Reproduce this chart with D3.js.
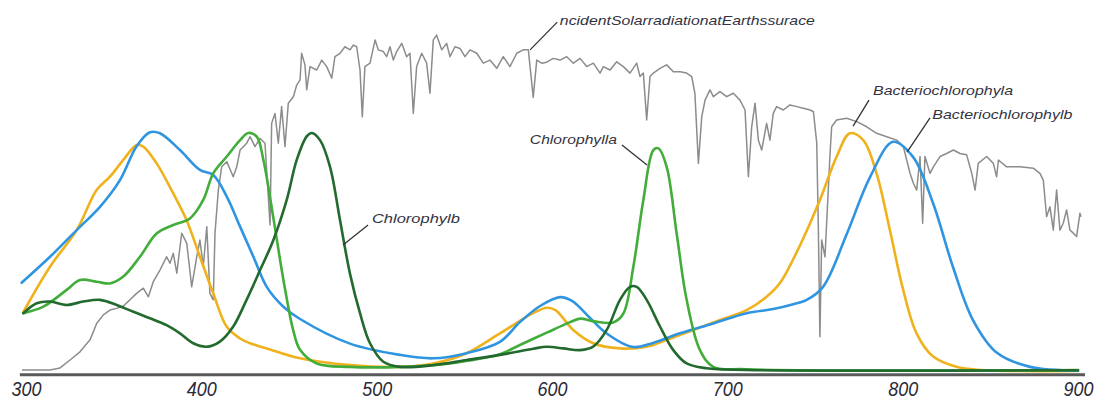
<!DOCTYPE html>
<html>
<head>
<meta charset="utf-8">
<script src="https://cdn.jsdelivr.net/npm/d3@7/dist/d3.min.js"></script>
<style>
  html, body { margin: 0; padding: 0; background: #fff; }
  svg { display: block; }
</style>
</head>
<body>
<svg id="chart" width="1102" height="403"></svg>
<script>
// Wavelength (nm) vs relative absorbance / irradiance (0-100, arbitrary units)
const wavelengthTicks = [300, 400, 500, 600, 700, 800, 900];

// Incident solar radiation at Earth's surface
const solarIrradiance = [
  [297.7,0.6],[313.7,0.6],[319.4,1.2],[325.1,3.5],[330.8,5.9],[336.5,9.4],[340.3,14.2],[344.1,16.7],
  [347.9,18.1],[351.7,18.6],[355.5,19.3],[359.3,21.1],[363.1,23.0],[366.9,24.5],[369.8,22.0],[372.6,26.4],
  [376.4,29.8],[380.2,33.7],[382.1,31.8],[384.0,34.7],[386.0,28.9],[388.8,40.6],[391.7,37.6],[394.5,24.9],
  [397.4,33.7],[399.2,38.6],[401.1,30.8],[403.1,42.5],[404.9,23.0],[406.8,21.1],[407.8,40.6],[409.7,53.2],
  [411.6,60.0],[414.5,61.5],[418.2,57.1],[420.2,60.0],[422.1,64.9],[425.9,66.9],[427.8,68.8],[430.6,65.9],
  [433.5,68.3],[436.3,66.9],[439.2,43.0],[440.1,72.7],[442.0,75.6],[443.9,66.9],[445.8,77.6],[447.7,65.9],
  [449.6,78.6],[452.5,80.5],[454.4,83.9],[456.3,85.4],[457.2,93.2],[459.1,89.8],[460.1,82.5],[462.0,89.3],
  [465.8,88.3],[468.7,91.2],[471.5,89.3],[474.4,85.9],[476.2,92.2],[479.1,93.2],[481.9,95.1],[484.8,94.2],
  [486.7,95.6],[488.6,95.1],[490.5,88.3],[491.8,74.6],[493.3,89.3],[496.2,90.3],[499.1,97.1],[500.9,94.2],
  [503.8,93.7],[505.7,92.2],[507.6,95.1],[509.5,91.2],[511.4,93.7],[514.3,96.1],[517.1,92.2],[519.0,93.2],
  [520.9,75.6],[522.8,89.3],[525.7,93.2],[528.5,90.3],[530.4,81.5],[532.3,97.1],[534.2,98.5],[537.1,94.2],
  [539.9,96.1],[541.8,92.2],[544.7,95.1],[547.5,94.6],[550.4,92.2],[553.2,94.2],[557.1,93.2],[560.8,90.3],
  [564.6,91.2],[568.5,88.8],[572.2,92.2],[576.0,89.3],[579.9,93.2],[583.6,94.2],[586.5,94.2],[589.3,80.3],
  [591.3,91.2],[594.1,90.3],[597.0,90.6],[600.7,91.7],[604.6,91.2],[608.4,92.2],[612.2,90.3],[616.0,91.7],
  [619.8,89.3],[623.6,90.3],[627.4,87.4],[629.3,89.3],[633.1,88.3],[636.9,90.7],[640.7,89.3],[644.5,87.4],
  [648.3,90.3],[650.2,86.4],[652.1,87.4],[654.0,73.7],[655.9,86.4],[657.8,87.4],[661.6,88.8],[665.4,89.8],
  [669.2,87.8],[673.0,87.8],[676.8,87.4],[679.7,86.4],[681.5,81.5],[683.5,61.0],[685.4,74.6],[687.3,79.5],
  [690.1,82.5],[692.0,80.5],[695.8,82.0],[699.6,80.5],[703.4,81.5],[707.2,79.5],[710.1,76.6],[712.0,57.1],
  [713.9,71.7],[715.8,78.6],[717.7,67.8],[719.6,64.9],[722.4,72.7],[724.3,67.8],[726.2,75.6],[728.1,77.6],
  [731.9,76.6],[735.7,78.1],[739.6,77.6],[743.3,77.1],[747.2,76.6],[749.1,76.1],[751.0,66.9],[751.9,42.5],
  [752.8,10.3],[753.8,38.6],[755.7,33.7],[758.5,63.0],[759.5,71.7],[762.3,73.7],[768.1,74.2],[773.8,73.2],
  [779.5,71.7],[785.2,69.8],[790.9,68.8],[796.6,67.8],[800.4,65.9],[802.3,62.0],[804.2,58.1],[806.1,55.2],
  [808.0,53.2],[809.9,63.0],[811.4,43.5],[812.7,63.0],[815.6,58.1],[817.5,60.0],[821.3,63.0],[825.1,63.9],
  [828.9,64.9],[832.7,63.9],[836.5,63.5],[839.4,58.1],[841.3,53.2],[843.1,61.0],[847.9,63.0],[851.7,61.0],
  [853.6,57.1],[854.6,62.0],[859.3,60.0],[863.1,60.0],[866.9,60.0],[874.5,59.6],[878.3,58.1],[880.2,56.1],
  [882.1,45.4],[884.0,48.3],[885.9,41.5],[887.8,53.2],[889.7,41.5],[891.6,43.5],[893.5,47.4],[895.4,41.5],
  [897.3,40.6],[899.2,39.6],[901.1,46.4],[901.7,45.4]
];

// Bacteriochlorophyll a
const bchlA = [
  [298.5,17.6],[313.7,30.8],[328.9,41.5],[340.3,53.2],[347.9,57.1],[355.5,62.0],[363.1,66.4],[366.9,65.9],
  [374.5,61.0],[384.0,52.2],[391.6,44.4],[399.2,33.7],[406.8,23.0],[414.5,13.2],[422.1,9.8],[427.8,8.4],
  [437.3,6.9],[456.3,4.0],[484.8,2.0],[513.3,1.5],[532.3,2.5],[551.3,5.5],[570.3,11.3],[589.3,17.2],
  [597.0,18.8],[602.0,18.1],[612.1,12.3],[623.5,8.4],[638.8,6.9],[654.0,7.4],[665.4,9.4],[680.6,12.3],
  [695.8,15.2],[711.0,18.1],[722.4,22.0],[730.0,26.0],[741.4,37.0],[752.8,50.3],[762.3,62.9],[769.9,69.8],
  [777.5,67.8],[785.1,58.1],[792.7,41.5],[800.3,24.0],[807.9,11.3],[817.4,4.5],[830.7,1.5],[844.1,0.6],
  [900.0,0.3]
];

// Bacteriochlorophyll b
const bchlB = [
  [297.5,26.1],[313.7,33.7],[328.9,41.5],[342.2,48.3],[353.6,56.1],[363.1,66.0],[370.7,70.1],[376.4,69.8],
  [387.8,64.9],[399.2,59.1],[406.8,57.6],[414.5,51.3],[422.1,42.5],[429.7,33.7],[437.3,24.9],[446.8,19.1],
  [456.3,15.5],[484.8,8.3],[513.3,5.0],[532.3,4.0],[551.3,5.5],[570.3,8.8],[581.7,14.6],[593.2,19.3],
  [604.6,21.9],[611.4,20.8],[621.7,15.8],[630.8,11.4],[646.2,7.3],[657.6,8.5],[673.0,11.3],[692.0,14.2],
  [711.0,17.2],[726.2,18.4],[737.6,19.8],[745.0,21.0],[754.6,24.9],[768.3,40.6],[781.4,57.0],[794.5,67.3],
  [805.9,62.9],[817.3,49.4],[828.7,30.7],[840.1,15.2],[853.8,5.6],[872.6,1.5],[900.0,0.4]
];

// Chlorophyll a
const chlA = [
  [298.5,17.2],[309.9,19.1],[323.2,24.0],[330.8,26.9],[340.3,26.4],[347.9,25.9],[355.5,27.9],[365.0,33.7],
  [374.5,40.5],[384.0,43.0],[393.5,44.9],[401.1,50.3],[406.8,58.1],[414.5,63.0],[422.1,67.8],[426.8,69.9],
  [431.6,68.8],[435.4,62.0],[441.1,45.0],[446.8,27.0],[452.5,12.0],[456.3,6.5],[465.8,2.5],[484.8,1.5],
  [513.3,1.5],[541.8,2.5],[560.0,4.0],[570.3,5.2],[581.7,7.9],[597.0,11.5],[610.0,14.5],[616.0,15.6],
  [624.0,14.8],[635.0,14.5],[640.7,17.1],[646.4,30.8],[652.1,50.3],[657.8,64.9],[660.7,65.4],[665.4,60.0],
  [671.1,40.5],[676.8,21.1],[684.4,6.4],[692.0,1.5],[711.0,0.8],[900.0,0.6]
];

// Chlorophyll b
const chlB = [
  [298.5,17.2],[306.1,20.1],[313.7,20.6],[323.2,19.6],[332.7,20.6],[342.2,21.1],[351.7,19.6],[361.2,17.6],
  [370.7,15.7],[380.2,13.7],[387.8,11.3],[395.4,8.4],[403.0,7.4],[410.6,8.9],[418.2,13.3],[425.8,21.1],
  [433.5,29.8],[441.1,38.6],[448.7,50.3],[454.4,62.0],[460.1,68.9],[463.0,69.9],[467.7,67.8],[473.4,60.0],
  [479.1,44.4],[484.8,28.7],[490.5,17.2],[496.2,8.4],[503.8,3.0],[513.3,1.5],[532.3,2.0],[551.3,3.5],
  [570.3,5.0],[589.3,6.8],[597.0,7.4],[606.5,6.9],[616.0,6.4],[623.5,7.4],[631.2,12.3],[638.8,21.1],
  [644.5,24.9],[648.3,24.9],[654.0,21.1],[661.6,13.3],[669.2,6.4],[676.8,2.5],[688.2,1.1],[711.0,0.6],
  [900.0,0.5]
];

// Callout labels: leader from [nm, value] on the curve to the text anchor
const callouts = [
  { text: "ncidentSolarradiationatEarthssurace", from: [587.5, 94.2], to: [603.0, 102.3], at: [604.5, 101.4], anchor: "start", len: 255 },
  { text: "Bacteriochlorophyla", from: [771.7, 71.9], to: [780.8, 79.5], at: [783.1, 81.0], anchor: "start", len: 140 },
  { text: "Bacteriochlorophylb", from: [802.5, 64.3], to: [815.6, 74.3], at: [816.9, 74.0], anchor: "start", len: 140 },
  { text: "Chlorophylla", from: [654.2, 60.5], to: [639.9, 66.4], at: [637.0, 66.7], anchor: "end", len: 87 },
  { text: "Chlorophylb", from: [480.8, 37.1], to: [495.1, 43.0], at: [497.3, 43.6], anchor: "start", len: 88 }
];

const svg = d3.select("#chart");
const x = d3.scaleLinear().domain([300, 900]).range([26, 1078]);
const y = d3.scaleLinear().domain([0, 100]).range([372, 30]);

// baseline axis: thick rule just under zero, condensed tick labels below it
const axisY = y(-0.8);
svg.append("line")
  .attr("x1", x(296.5)).attr("x2", x(904))
  .attr("y1", axisY).attr("y2", axisY)
  .attr("stroke", "#5a5a5a").attr("stroke-width", 3);
const axis = d3.axisBottom(x).tickValues(wavelengthTicks).tickSize(0).tickFormat(d3.format("d"));
const ag = svg.append("g").attr("transform", `translate(0,${axisY})`).call(axis);
ag.select(".domain").remove();
ag.selectAll("text")
  .attr("y", 21).attr("dy", 0)
  .attr("font-family", "'Liberation Sans', Arial, sans-serif")
  .attr("font-size", 20)
  .attr("font-style", "italic")
  .attr("textLength", 30)
  .attr("lengthAdjust", "spacingAndGlyphs")
  .attr("fill", "#2a2a35");

const smooth = d3.line().x(d => x(d[0])).y(d => y(d[1])).curve(d3.curveCatmullRom.alpha(0.5));
const raw = d3.line().x(d => x(d[0])).y(d => y(d[1]));

svg.append("path").datum(solarIrradiance).attr("d", raw)
  .attr("fill", "none").attr("stroke", "#8c8c8c").attr("stroke-width", 1.5).attr("stroke-linejoin", "round");

const series = [
  { data: bchlA, color: "#f0b21c" },
  { data: bchlB, color: "#2f95e0" },
  { data: chlA, color: "#42ad3a" },
  { data: chlB, color: "#236a2e" }
];
series.forEach(s => {
  svg.append("path").datum(s.data).attr("d", smooth)
    .attr("fill", "none").attr("stroke", s.color).attr("stroke-width", 2.6)
    .attr("stroke-linejoin", "round").attr("stroke-linecap", "round");
});

// callouts
const cg = svg.append("g");
callouts.forEach(c => {
  cg.append("line")
    .attr("x1", x(c.from[0])).attr("y1", y(c.from[1]))
    .attr("x2", x(c.to[0])).attr("y2", y(c.to[1]))
    .attr("stroke", "#333").attr("stroke-width", 1.3);
  cg.append("text")
    .attr("x", x(c.at[0])).attr("y", y(c.at[1]))
    .attr("text-anchor", c.anchor)
    .attr("font-family", "'Liberation Sans', Arial, sans-serif")
    .attr("font-style", "italic")
    .attr("font-size", 13.5)
    .attr("fill", "#33333f")
    .attr("textLength", c.len)
    .attr("lengthAdjust", "spacingAndGlyphs")
    .text(c.text);
});
</script>
</body>
</html>
